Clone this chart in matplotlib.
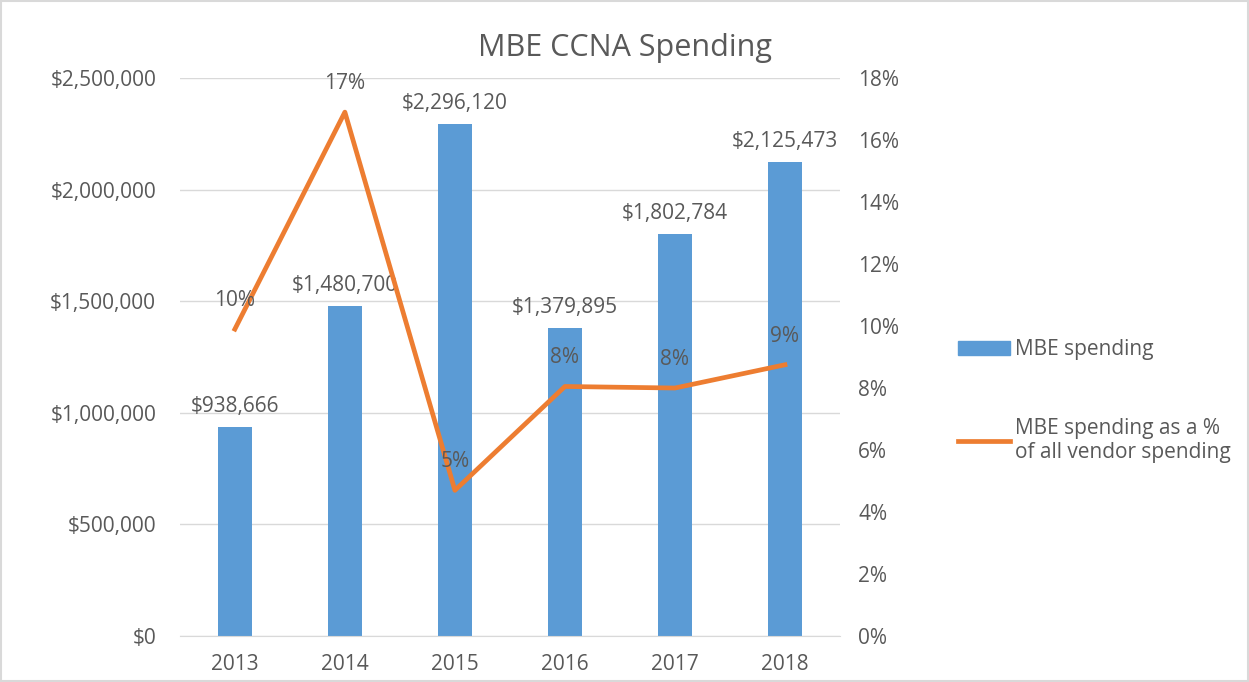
import matplotlib.pyplot as plt
from matplotlib.patches import Rectangle, Patch
from matplotlib.lines import Line2D
from matplotlib.ticker import FuncFormatter

plt.rcParams['font.family'] = ['Open Sans', 'DejaVu Sans']

years = ['2013', '2014', '2015', '2016', '2017', '2018']
spending = [938666, 1480700, 2296120, 1379895, 1802784, 2125473]
pct = [9.9, 16.9, 4.7, 8.05, 8.0, 8.75]
pct_labels = ['10%', '17%', '5%', '8%', '8%', '9%']

BAR = '#5B9BD5'
LINE = '#ED7D31'
TXT = '#595959'
GRID = '#D9D9D9'
FS = 15

fig = plt.figure(figsize=(12.49, 6.82), dpi=100)
ax = fig.add_axes([0.144, 0.0674, 0.5285, 0.8182])
ax2 = ax.twinx()

x = list(range(len(years)))
ax.bar(x, spending, width=0.31, color=BAR, zorder=2)
ax.set_xlim(-0.5, 5.5)
ax.set_ylim(0, 2500000)
ax.set_yticks(range(0, 2500001, 500000))
ax.yaxis.set_major_formatter(FuncFormatter(lambda v, p: '${:,.0f}'.format(v)))
ax.set_xticks(x)
ax.set_xticklabels(years)
ax.grid(axis='y', color=GRID, lw=1, zorder=0)
ax.set_axisbelow(True)

for a in (ax, ax2):
    for s in a.spines.values():
        s.set_visible(False)
    a.tick_params(length=0, colors=TXT, labelsize=FS)
ax.spines['bottom'].set_visible(True)
ax.spines['bottom'].set_color(GRID)
ax.tick_params(axis='y', pad=17)
ax.tick_params(axis='x', pad=13)
ax2.tick_params(axis='y', pad=13)

for xi, v in zip(x, spending):
    ax.annotate('${:,.0f}'.format(v), (xi, v), xytext=(0, 7), textcoords='offset points',
                ha='center', va='bottom', fontsize=FS, color=TXT)

ax2.plot(x, pct, color=LINE, lw=3.4, zorder=3)
ax2.set_ylim(0, 18)
ax2.set_yticks(range(0, 19, 2))
ax2.yaxis.set_major_formatter(FuncFormatter(lambda v, p: '{:.0f}%'.format(v)))
for xi, v, lab in zip(x, pct, pct_labels):
    ax2.annotate(lab, (xi, v), xytext=(0, 13), textcoords='offset points',
                 ha='center', va='bottom', fontsize=FS, color=TXT, zorder=4)

fig.text(0.5, 0.93, 'MBE CCNA Spending', ha='center', va='center', fontsize=22, color=TXT)

handles = [Patch(color=BAR), Line2D([0], [0], color=LINE, lw=3.4)]
fig.legend(handles, ['MBE spending', 'MBE spending as a %\nof all vendor spending'],
           loc='upper left', bbox_to_anchor=(0.752, 0.53), frameon=False,
           fontsize=FS, labelcolor=TXT, handlelength=2.5, handletextpad=0.25,
           labelspacing=2.75)

fig.patches.append(Rectangle((0.001, 0.001), 0.998, 0.997, transform=fig.transFigure,
                             fill=False, edgecolor=GRID, lw=1.5))

fig.savefig('out.png', dpi=100)
